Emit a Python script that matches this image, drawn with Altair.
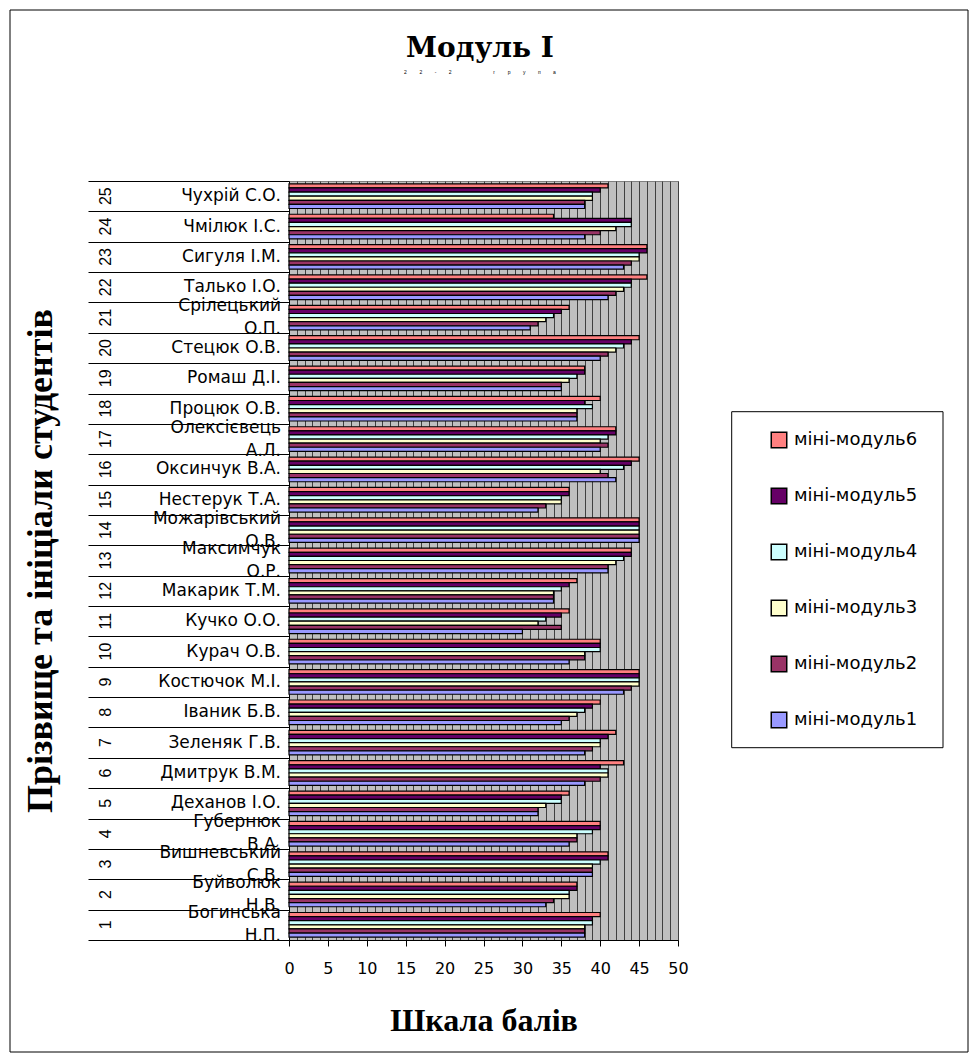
import altair as alt
import pandas as pd

# ---------------- data ----------------
names = ["Богинська\nН.П.", "Буйволюк\nН.В.", "Вишневський\nС.В.", "Губернюк\nВ.А.",
         "Деханов І.О.", "Дмитрук В.М.", "Зеленяк Г.В.", "Іваник Б.В.", "Костючок М.І.",
         "Курач О.В.", "Кучко О.О.", "Макарик Т.М.", "Максимчук\nО.Р.", "Можарівський\nО.В.",
         "Нестерук Т.А.", "Оксинчук В.А.", "Олексієвець\nА.Л.", "Процюк О.В.", "Ромаш Д.І.",
         "Стецюк О.В.", "Срілецький\nО.П.", "Талько І.О.", "Сигуля І.М.", "Чмілюк І.С.",
         "Чухрій С.О."]
numbers = list(range(1, 26))

mm1 = [38, 33, 39, 36, 32, 38, 38, 35, 43, 36, 30, 34, 41, 45, 32, 42, 40, 37, 35, 40, 31, 41, 43, 38, 38]
mm2 = [38, 34, 39, 37, 32, 40, 39, 36, 44, 38, 35, 34, 41, 45, 33, 41, 41, 37, 35, 41, 32, 42, 44, 40, 38]
mm3 = [38, 36, 39, 37, 33, 41, 40, 37, 45, 38, 32, 34, 42, 45, 35, 40, 40, 37, 36, 42, 33, 43, 45, 42, 39]
mm4 = [39, 36, 40, 39, 35, 41, 40, 38, 45, 40, 33, 35, 43, 45, 35, 43, 41, 39, 37, 43, 34, 44, 45, 44, 39]
mm5 = [39, 37, 41, 40, 35, 40, 41, 39, 45, 40, 35, 36, 44, 45, 36, 44, 42, 38, 38, 44, 35, 44, 46, 44, 40]
mm6 = [40, 37, 41, 40, 36, 43, 42, 40, 45, 40, 36, 37, 44, 45, 36, 45, 42, 40, 38, 45, 36, 46, 46, 34, 41]

series_names = ["міні-модуль6", "міні-модуль5", "міні-модуль4",
                "міні-модуль3", "міні-модуль2", "міні-модуль1"]
series_colors = ["#FF8080", "#660066", "#CCFFFF", "#FFFFCC", "#993366", "#9999FF"]
series_values = [mm6, mm5, mm4, mm3, mm2, mm1]

x_ticks = list(range(0, 51))

title_text = "Модуль I"
sep = "\u00a0" * 9
subtitle_text = sep.join(list("22-2")) + "\u00a0" * 30 + sep.join(list("група"))

# ---------------- tables ----------------
rows = []
for s, vals in zip(series_names, series_values):
    for n, v in zip(numbers, vals):
        rows.append({"num": n, "series": s, "value": v})
bars_df = pd.DataFrame(rows)
labels_df = pd.DataFrame({"num": numbers, "name": names, "numtxt": [str(n) for n in numbers]})
one = pd.DataFrame({"t": [title_text], "s": [subtitle_text]})

y_order = list(range(25, 0, -1))

# ---------------- layers ----------------
bars = alt.Chart(bars_df).mark_bar(stroke="black", strokeWidth=1.2).encode(
    x=alt.X("value:Q",
            scale=alt.Scale(domain=[0, 50], nice=False, zero=True),
            axis=alt.Axis(values=x_ticks, grid=True, gridColor="#404040", gridWidth=1,
                          labelExpr="datum.value % 5 === 0 ? datum.label : ''",
                          labelOverlap=False, labelFlush=False,
                          tickOpacity={"condition": {"test": "datum.value % 5 === 0", "value": 1}, "value": 0},
                          tickSize=6, tickColor="black", domainColor="black",
                          labelFont="DejaVu Sans", labelFontSize=16, labelColor="black",
                          labelPadding=14,
                          title="Шкала балів", titleFont="Liberation Serif", titleFontSize=32,
                          titleFontWeight="bold", titleColor="black",
                          titleX=194.5, titleY=90, titleBaseline="alphabetic")),
    y=alt.Y("num:O", sort=y_order,
            scale=alt.Scale(paddingInner=0, paddingOuter=0),
            axis=alt.Axis(labels=False, ticks=True, tickBand="extent", tickSize=201,
                          tickColor="black", domainColor="black", grid=False,
                          title="Прізвище та ініціали студентів",
                          titleFont="Liberation Serif", titleFontSize=36, titleFontWeight="bold",
                          titleColor="black", titleAngle=270, titleX=-249, titleY=379.5,
                          titleAlign="center", titleBaseline="middle")),
    yOffset=alt.YOffset("series:N", sort=series_names,
                        scale=alt.Scale(domain=series_names, paddingOuter=0.7, paddingInner=0)),
    color=alt.Color("series:N",
                    scale=alt.Scale(domain=series_names, range=series_colors),
                    legend=alt.Legend(title=None, orient="none", legendX=481, legendY=250,
                                      padding=0, symbolType="square", symbolSize=240,
                                      symbolStrokeColor="black", symbolStrokeWidth=1.5,
                                      labelFont="DejaVu Sans", labelFontSize=18,
                                      labelColor="black", rowPadding=34, labelOffset=6)),
)

name_single = alt.Chart(labels_df).transform_filter(
    "indexof(datum.name, '\\n') < 0"
).mark_text(
    align="right", baseline="middle", font="DejaVu Sans", fontSize=17, color="black"
).encode(
    y=alt.Y("num:O", sort=y_order),
    x=alt.value(-8),
    text="name:N",
)

name_double = alt.Chart(labels_df).transform_filter(
    "indexof(datum.name, '\\n') >= 0"
).mark_text(
    align="right", baseline="middle", lineBreak="\n", lineHeight=23, dy=-11.5,
    font="DejaVu Sans", fontSize=17, color="black"
).encode(
    y=alt.Y("num:O", sort=y_order),
    x=alt.value(-8),
    text="name:N",
)

num_text = alt.Chart(labels_df).mark_text(
    align="center", baseline="middle", angle=270,
    font="Liberation Sans", fontSize=16, color="black"
).encode(
    y=alt.Y("num:O", sort=y_order),
    x=alt.value(-183),
    text="numtxt:N",
)

title_layer = alt.Chart(one).mark_text(
    align="center", baseline="alphabetic", font="DejaVu Serif", fontSize=28,
    fontWeight="bold", color="black"
).encode(x=alt.value(191), y=alt.value(-124), text="t:N")

subtitle_layer = alt.Chart(one).mark_text(
    align="center", baseline="middle", font="Liberation Sans", fontSize=5, color="black"
).encode(x=alt.value(191), y=alt.value(-109), text="s:N")

legend_box = alt.Chart(one).mark_rect(fill="white", fillOpacity=0, stroke="black", strokeWidth=1).encode(
    x=alt.value(442.7), x2=alt.value(654), y=alt.value(230.7), y2=alt.value(566.7)
)

frame = alt.Chart(one).mark_rect(fill="white", fillOpacity=0, stroke="black", strokeWidth=1).encode(
    x=alt.value(-279), x2=alt.value(679), y=alt.value(-171), y2=alt.value(871)
)

chart = alt.layer(frame, bars, name_single, name_double, num_text,
                  title_layer, subtitle_layer, legend_box).properties(
    width=389, height=759,
    autosize="none",
    padding={"left": 289, "top": 181, "right": 301, "bottom": 123},
).configure(
    background="white"
).configure_view(
    fill="#C0C0C0", stroke="#808080", strokeWidth=1
)

chart.save("out.html", embed_options={"renderer": "svg", "actions": False})
